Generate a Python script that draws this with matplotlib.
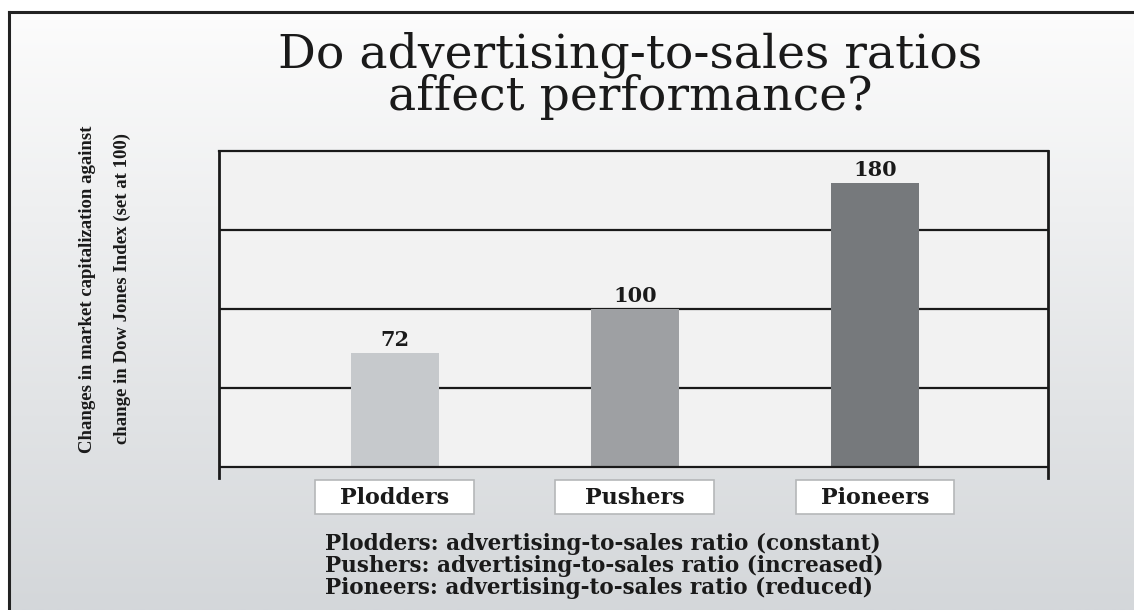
import numpy as np
import matplotlib
matplotlib.use("Agg")
import matplotlib.pyplot as plt
from matplotlib.patches import Rectangle
from matplotlib.lines import Line2D
import matplotlib.transforms as mtransforms

categories = ["Plodders", "Pushers", "Pioneers"]
values = [72, 100, 180]
bar_colors = ["#c6c9cc", "#9ea0a3", "#76797c"]
title_lines = ["Do advertising-to-sales ratios", "affect performance?"]
ylabel_lines = ["Changes in market capitalization against",
                "change in Dow Jones Index (set at 100)"]
notes = ["Plodders: advertising-to-sales ratio (constant)",
         "Pushers: advertising-to-sales ratio (increased)",
         "Pioneers: advertising-to-sales ratio (reduced)"]
grid_levels = [50, 100, 150]
y_top = 200

W, H = 1134, 610
fig = plt.figure(figsize=(W / 100, H / 100), dpi=100)
fig.patch.set_facecolor("white")

# background panel with a soft vertical gradient
bg = fig.add_axes([9 / W, 0, 1 - 9 / W, (H - 12) / H])
top = np.array([252, 252, 252]) / 255
bot = np.array([212, 215, 218]) / 255
t = np.linspace(0, 1, 256)[:, None]
grad = top * (1 - t) + bot * t
bg.imshow(grad[:, None, :], aspect="auto", extent=[0, 1, 0, 1])
bg.axis("off")

# outer frame (top and left edges)
fig.add_artist(Line2D([9 / W, 1], [1 - 12 / H, 1 - 12 / H], color="#222222", lw=2.2))
fig.add_artist(Line2D([9 / W, 9 / W], [0, 1 - 12 / H], color="#222222", lw=2.2))

# main axes
ax = fig.add_axes([219 / W, (H - 478) / H, (1048 - 219) / W, (478 - 151) / H])
ax.patch.set_visible(False)
ax.axhspan(0, y_top, color="#f2f2f2", zorder=0)
x = np.arange(len(categories))
ax.bar(x, values, width=0.367, color=bar_colors, zorder=3)
for g in grid_levels:
    ax.axhline(g, color="#1a1a1a", lw=1.6, zorder=1)
ax.axhline(0, color="#1a1a1a", lw=1.6, zorder=4)
ax.set_xlim(-0.733, 2.721)
ax.set_ylim(-7, y_top)
ax.set_xticks([])
ax.set_yticks([])
ax.spines["bottom"].set_visible(False)
for s in ["left", "right", "top"]:
    ax.spines[s].set_color("#1a1a1a")
    ax.spines[s].set_linewidth(2)
ax.spines["top"].set_linewidth(1.6)

for xi, v in zip(x, values):
    ax.annotate(str(v), (xi, v), xytext=(0, 5), textcoords="offset points",
                ha="center", va="baseline", family="DejaVu Serif",
                weight="bold", fontsize=15, color="#1a1a1a")

# category labels in boxes below the axis
trans = mtransforms.blended_transform_factory(ax.transData, ax.transAxes)
for xi, c in zip(x, categories):
    ax.add_patch(Rectangle((xi - 0.331, -0.110), 0.662, 0.104, transform=trans,
                           facecolor="white", edgecolor="#b5b7b9", lw=1.2,
                           clip_on=False, zorder=2))
    ax.text(xi, -0.060, c, transform=trans, ha="center", va="center",
            family="DejaVu Serif", weight="bold", fontsize=16, color="#1a1a1a")

# title
for i, line in enumerate(title_lines):
    fig.text(630 / W, 1 - (68 + 42 * i) / H, line, ha="center", va="baseline",
             family="DejaVu Serif", fontsize=34, color="#1a1a1a")

# y label, two rotated lines
for i, line in enumerate(ylabel_lines):
    fig.text((88 + 34 * i) / W, 1 - 289 / H, line, rotation=90, ha="center",
             va="center", family="Liberation Serif", weight="bold",
             fontsize=13.5, color="#1a1a1a")

# footnotes
for i, line in enumerate(notes):
    fig.text(325 / W, 1 - (550 + 22 * i) / H, line, ha="left", va="baseline",
             family="DejaVu Serif", weight="bold", fontsize=15.5, color="#1a1a1a")

fig.savefig("out.png", dpi=100)
